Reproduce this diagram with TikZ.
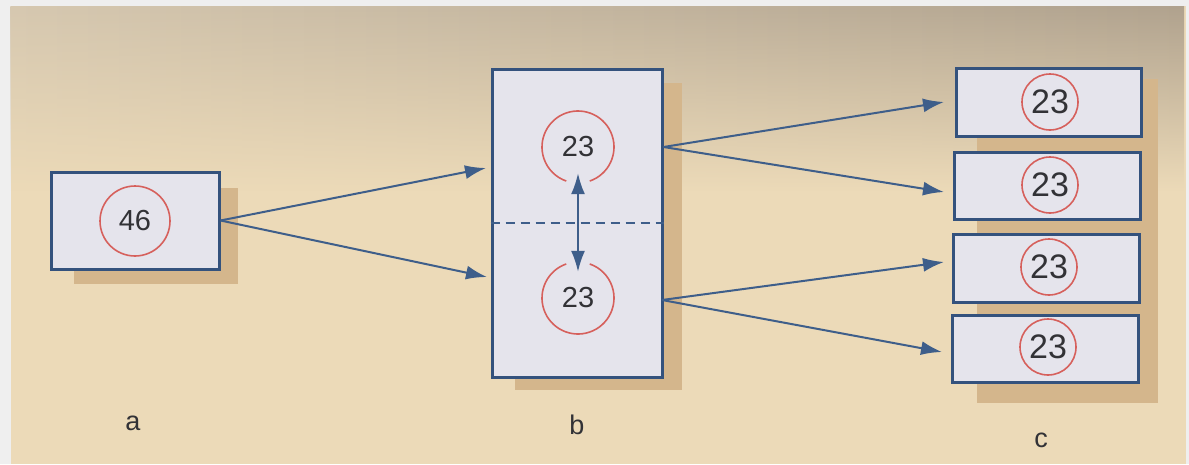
\documentclass[tikz,border=0pt]{standalone}
\usepackage{fontspec}
\setmainfont{Liberation Sans}
\usetikzlibrary{arrows.meta,fadings}
\definecolor{pagebg}{RGB}{236,218,184}
\definecolor{topgray}{RGB}{214,200,176}
\definecolor{rightgray}{RGB}{176,162,142}
\definecolor{outer}{RGB}{239,239,239}
\definecolor{boxfill}{RGB}{229,228,236}
\definecolor{boxline}{RGB}{52,82,125}
\definecolor{shadowc}{RGB}{212,182,140}
\definecolor{ringred}{RGB}{214,96,92}
\definecolor{arrowc}{RGB}{62,94,138}
\definecolor{txt}{RGB}{50,50,54}
\tikzset{
  cellbox/.style={draw=boxline, line width=3pt, fill=boxfill, inner sep=0pt},
  shadowbox/.style={fill=shadowc},
  ring/.style={circle, draw=ringred, line width=1.6pt, inner sep=0pt, text=txt, font=\fontsize{29}{29}\selectfont},
  smallring/.style={ring, font=\fontsize{34}{34}\selectfont},
  openring/.style={circle, inner sep=0pt, text=txt, font=\fontsize{29}{29}\selectfont},
  arc line/.style={draw=ringred, line width=1.6pt},
  flow/.style={draw=arrowc, line width=2pt, -{Latex[length=21pt,width=14pt]}},
  swap/.style={draw=arrowc, line width=2pt, {Latex[length=21pt,width=14pt]}-{Latex[length=21pt,width=14pt]}},
  divider/.style={draw=arrowc, line width=2pt, dash pattern=on 9pt off 6pt},
  caption/.style={text=txt, font=\fontsize{27}{27}\selectfont}
}
\begin{document}
\begin{tikzpicture}[x=1pt,y=1pt]
\useasboundingbox (0,0) rectangle (1189,-464);
% background
\fill[outer] (0,0) rectangle (1189,-464);
\fill[pagebg] (11,-6) rectangle (1186,-464);
\shade[left color=topgray, right color=rightgray, path fading=south] (11,-6) rectangle (1186,-190);
% shadows
\fill[shadowbox] (74,-188) rectangle (238,-284);
\fill[shadowbox] (515,-83) rectangle (682,-390);
\fill[shadowbox] (977,-79) rectangle (1158,-403);
% box a
\node[cellbox, minimum width=168pt, minimum height=97pt] (a) at (135,-220.5) {};
\node[ring, minimum size=70pt] (a46) at (135,-221) {46};
% box b
\node[cellbox, minimum width=170pt, minimum height=308pt] (b) at (577,-223) {};
\draw[divider] (b.west) -- (b.east);
\node[openring, minimum size=72pt] (bu) at (578,-147) {23};
\node[openring, minimum size=72pt] (bl) at (578,-298) {23};
\draw[arc line] ([shift={(-71:36pt)}]bu.center) arc[start angle=-71, end angle=251, radius=36pt];
\draw[arc line] ([shift={(109:36pt)}]bl.center) arc[start angle=109, end angle=431, radius=36pt];
\draw[swap, shorten <=-10pt, shorten >=-10pt] (bu.south) -- (bl.north);
% boxes c
\node[cellbox, minimum width=185pt, minimum height=68pt] (c1) at (1048.5,-102) {};
\node[cellbox, minimum width=186pt, minimum height=67pt] (c2) at (1047,-185.5) {};
\node[cellbox, minimum width=186pt, minimum height=68pt] (c3) at (1046,-268) {};
\node[cellbox, minimum width=186pt, minimum height=67pt] (c4) at (1045,-348.5) {};
\node[smallring, minimum size=56pt] (r1) at (1050,-102) {23};
\node[smallring, minimum size=56pt] (r2) at (1050,-185) {23};
\node[smallring, minimum size=56pt] (r3) at (1049,-267) {23};
\node[smallring, minimum size=56pt] (r4) at (1048,-347) {23};
% arrow ends
\coordinate (bin1) at (486,-168);
\coordinate (bin2) at (487,-277);
\coordinate (cin1) at (944,-102);
\coordinate (cin2) at (944,-192);
\coordinate (cin3) at (944,-262);
\coordinate (cin4) at (942,-352);
\coordinate (bout1) at (b.east |- bu);
\coordinate (bout2) at (662,-300);
\draw[flow] (a.east) -- (bin1);
\draw[flow] (a.east) -- (bin2);
\draw[flow] (bout1) -- (cin1);
\draw[flow] (bout1) -- (cin2);
\draw[flow] (bout2) -- (cin3);
\draw[flow] (bout2) -- (cin4);
% captions
\node[caption] (la) at (133,-423) {a};
\node[caption] (lb) at (577,-425) {b};
\node[caption] (lc) at (1041,-440) {c};
\end{tikzpicture}
\end{document}
